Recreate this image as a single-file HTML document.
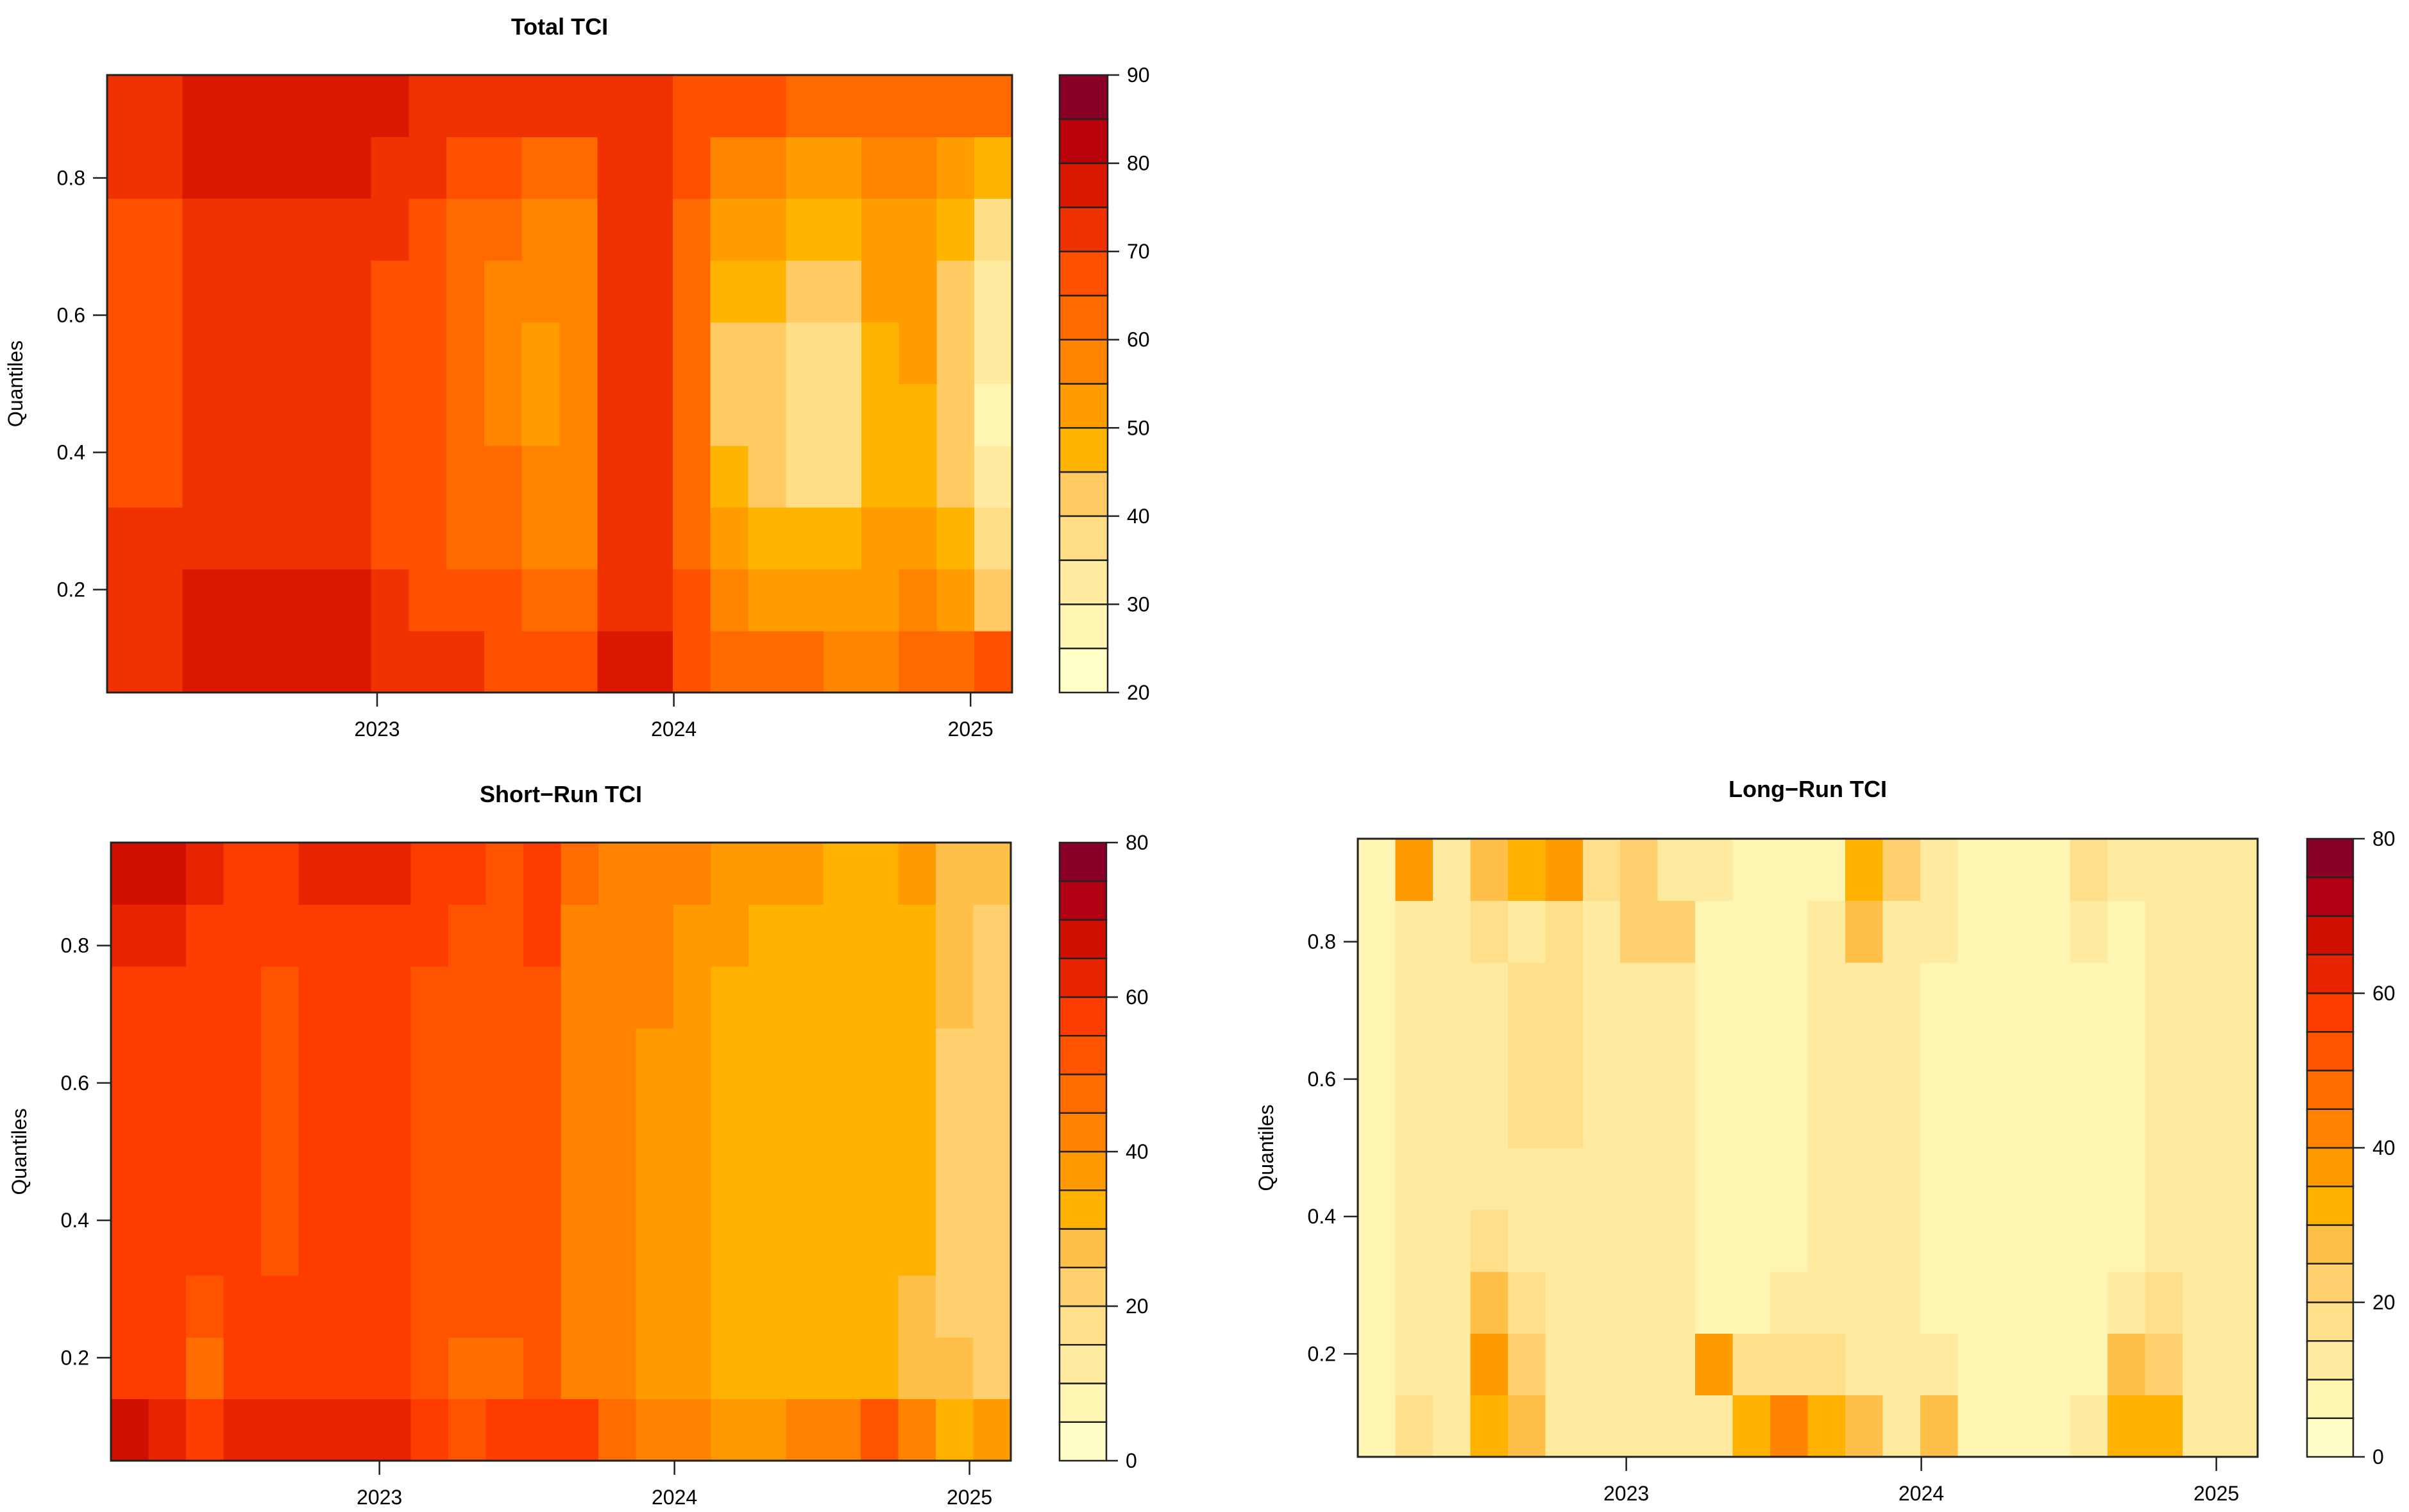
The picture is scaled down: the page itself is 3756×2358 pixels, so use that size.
<!DOCTYPE html>
<html><head><meta charset="utf-8"><title>TCI quantile heatmaps</title>
<style>
html,body{margin:0;padding:0;background:#fff;}
svg{display:block;font-family:"Liberation Sans",sans-serif;}
</style></head>
<body>
<svg id="chart" width="3756" height="2358" viewBox="0 0 3756 2358" xmlns="http://www.w3.org/2000/svg"></svg>
<script>
// ---- data ----
const timeTicks = [2023, 2024, 2025];
const timeStart = 2022.09;
const timeEnd = 2025.14;
const quantileTicks = [0.2, 0.4, 0.6, 0.8];
const quantileBands = [0.05,0.14,0.23,0.32,0.41,0.50,0.59,0.68,0.77,0.86,0.95];
// rows listed from bottom band (0.05-0.14) to top band (0.86-0.95); 24 time columns each
const totalTCI = [
 [74,74,77,77,77,77,77,72,70,70,68,65,66,75,76,68,63,60,60,58,58,60,62,68],
 [72,72,76,76,76,76,76,70,68,67,65,60,62,73,73,65,55,52,50,50,53,55,50,42],
 [72,72,72,72,72,72,72,68,66,64,62,58,58,72,72,64,50,47,45,45,50,50,45,37],
 [68,68,72,72,72,72,72,68,65,63,60,55,57,72,72,63,45,42,38,38,48,48,40,30],
 [67,67,72,72,72,72,72,68,65,62,58,53,55,72,72,62,42,40,37,37,47,48,40,28],
 [67,67,72,72,72,72,72,68,65,62,57,53,55,72,72,62,43,42,38,38,48,50,40,30],
 [67,67,72,72,72,72,72,68,65,62,58,55,55,72,72,62,47,45,40,40,50,50,42,33],
 [68,68,72,72,72,72,72,70,67,64,62,58,57,72,72,63,52,50,45,45,52,52,45,38],
 [72,72,77,77,77,76,76,74,70,68,66,62,62,72,72,65,58,55,52,52,55,55,50,45],
 [74,74,77,77,77,77,77,75,72,72,70,70,72,74,73,68,66,65,63,62,62,62,60,60]
];
const shortTCI = [
 [66,62,55,60,62,62,60,62,55,52,55,58,58,48,42,40,38,38,42,44,50,40,30,36],
 [58,56,48,55,56,56,55,55,50,46,48,50,44,40,38,36,34,33,33,32,30,28,26,24],
 [56,55,53,55,55,57,55,55,52,50,50,50,44,42,38,36,33,32,32,32,30,28,24,20],
 [56,56,56,55,53,55,55,55,52,50,50,50,43,42,38,36,33,32,32,32,31,30,24,20],
 [56,56,56,55,53,55,55,55,52,50,50,51,42,42,38,36,33,32,32,32,31,30,24,20],
 [56,56,56,55,52,55,55,55,52,50,50,51,42,41,39,36,33,32,32,32,31,30,24,20],
 [56,56,56,55,52,55,55,55,52,51,50,52,42,41,39,36,33,32,32,32,31,31,24,21],
 [57,58,56,55,53,55,55,55,53,52,51,52,43,41,40,37,33,32,32,32,31,32,25,22],
 [61,63,59,56,56,57,59,58,56,54,52,55,44,42,42,38,35,33,33,33,31,34,27,24],
 [66,68,63,57,57,60,63,61,58,56,54,57,46,44,44,40,37,35,35,33,32,36,29,27]
];
const longTCI = [
 [8,18,12,30,25,12,10,10,10,10,30,42,30,25,11,28,8,7,8,12,30,30,10,10],
 [8,11,12,38,22,13,11,10,10,38,16,18,18,13,11,11,7,7,7,9,26,22,10,10],
 [8,10,11,28,15,13,11,11,10,8,8,11,13,11,11,9,7,7,7,8,13,16,10,10],
 [8,10,12,18,14,13,13,12,11,8,7,9,12,12,11,8,7,7,7,8,8,11,10,10],
 [8,10,12,14,14,14,13,12,12,8,7,7,12,13,12,8,7,7,7,8,8,10,10,10],
 [8,10,12,14,15,15,14,12,12,8,7,7,12,13,12,8,7,7,7,8,8,10,10,10],
 [8,10,12,14,15,15,14,12,12,8,7,7,12,13,12,8,7,7,7,8,8,10,11,10],
 [8,10,12,14,15,16,14,12,12,8,7,7,12,14,12,8,7,7,7,8,8,10,11,11],
 [8,11,12,17,14,17,14,22,20,8,8,8,10,26,13,10,8,8,8,10,8,10,11,11],
 [8,38,10,26,32,35,17,22,11,10,8,8,8,32,22,10,8,8,8,16,10,10,11,11]
];
const totalLevels = [20,25,30,35,40,45,50,55,60,65,70,75,80,85,90];
const srLevels = [0,5,10,15,20,25,30,35,40,45,50,55,60,65,70,75,80];
const totalLabels = [20,30,40,50,60,70,80,90];
const srLabels = [0,20,40,60,80];

const pal14 = ["#FFFFC8","#FFF6B4","#FFECA0","#FFDE88","#FFCB62","#FFB500","#FF9D00","#FF8400","#FF6A00","#FF5000","#F03200","#DA1800","#BA0008","#8B0026"];
const pal16 = ["#FFFEC6","#FFF5B2","#FFEBA0","#FFDF8A","#FFD06E","#FFC04A","#FFB200","#FF9B00","#FF8300","#FF6C00","#FF5300","#FF3C00","#E82400","#CF1000","#B00012","#8B0026"];

const NS = "http://www.w3.org/2000/svg";
const svg = document.getElementById("chart");
function mk(tag, attrs, parent){
  const e = document.createElementNS(NS, tag);
  for (const k in attrs) e.setAttribute(k, attrs[k]);
  (parent||svg).appendChild(e);
  return e;
}

function panel(cfg){
  const g = mk("g", {});
  
  
  const {L,R,T,B} = cfg;
  const xScale = t => L + (t - timeStart) / (timeEnd - timeStart) * (R - L);
  const yScale = q => B - (q - 0.05) / 0.9 * (B - T);
  const data = cfg.data, levels = cfg.levels, pal = cfg.pal;
  const nCols = data[0].length;
  const colW = (timeEnd - timeStart) / nCols;
  const binOf = v => { let i = 0; while (i < levels.length - 2 && v >= levels[i+1]) i++; return i; };
  const cells = mk("g", {"shape-rendering":"crispEdges"}, g);
  
  
  for (let r = 0; r < data.length; r++){
    for (let c = 0; c < nCols; c++){
      const x0 = xScale(timeStart + c*colW), x1 = xScale(timeStart + (c+1)*colW);
      const y0 = yScale(quantileBands[r+1]), y1 = yScale(quantileBands[r]);
      const rc = mk("rect", {x:x0, y:y0, width:x1-x0+0.6, height:y1-y0+0.6, fill: pal[binOf(data[r][c])]}, cells);
      
      
    }
  }
  const fr = mk("rect", {x:L, y:T, width:R-L, height:B-T, fill:"none", stroke:"#222", "stroke-width":3}, g);
  
  
  const tt = mk("text", {x:(L+R)/2, y:cfg.titleY, "text-anchor":"middle", "font-size":36, "font-weight":"bold", fill:"#000"}, g);
  tt.textContent = cfg.title;
  
  
  for (const t of timeTicks){
    const x = xScale(t);
    const tl = mk("line", {x1:x, y1:B, x2:x, y2:B+22, stroke:"#222", "stroke-width":2.5}, g);
    
    
    const tx = mk("text", {x:x, y:B+68, "text-anchor":"middle", "font-size":32, fill:"#000"}, g);
    tx.textContent = t;
    
    
  }
  for (const q of quantileTicks){
    const y = yScale(q);
    const tl = mk("line", {x1:L-22, y1:y, x2:L, y2:y, stroke:"#222", "stroke-width":2.5}, g);
    
    
    const tx = mk("text", {x:L-34, y:y+11, "text-anchor":"end", "font-size":32, fill:"#000"}, g);
    tx.textContent = q.toFixed(1);
    
    
  }
  const yt = mk("text", {x:0, y:0, "text-anchor":"middle", "font-size":32, fill:"#000", transform:`translate(${L-132},${(T+B)/2}) rotate(-90)`}, g);
  yt.textContent = "Quantiles";
  
  
  const cb = mk("g", {}, g);
  
  
  const lv0 = levels[0], lv1 = levels[levels.length-1];
  const cy = v => B - (v - lv0) / (lv1 - lv0) * (B - T);
  for (let i = 0; i < levels.length - 1; i++){
    const s = mk("rect", {x:cfg.cbL, y:cy(levels[i+1]), width:cfg.cbR-cfg.cbL, height:cy(levels[i])-cy(levels[i+1]), fill:pal[i], stroke:"#222", "stroke-width":2.5}, cb);
    
    
  }
  for (const v of cfg.labels){
    const y = cy(v);
    const tl = mk("line", {x1:cfg.cbR, y1:y, x2:cfg.cbR+18, y2:y, stroke:"#222", "stroke-width":2.5}, cb);
    
    
    const tx = mk("text", {x:cfg.cbR+30, y:y+11, "font-size":32, fill:"#000"}, cb);
    tx.textContent = v;
    
    
  }
}

panel({name:"total-tci-panel", title:"Total TCI", data:totalTCI, levels:totalLevels, labels:totalLabels, pal:pal14,
  L:167, R:1578, T:117, B:1080, titleY:54, cbL:1652, cbR:1727});
panel({name:"short-run-tci-panel", title:"Short\u2212Run TCI", data:shortTCI, levels:srLevels, labels:srLabels, pal:pal16,
  L:173, R:1576, T:1314, B:2278, titleY:1251, cbL:1652, cbR:1725});
panel({name:"long-run-tci-panel", title:"Long\u2212Run TCI", data:longTCI, levels:srLevels, labels:srLabels, pal:pal16,
  L:2117, R:3520, T:1308, B:2272, titleY:1243, cbL:3597, cbR:3669});
</script>
</body></html>
